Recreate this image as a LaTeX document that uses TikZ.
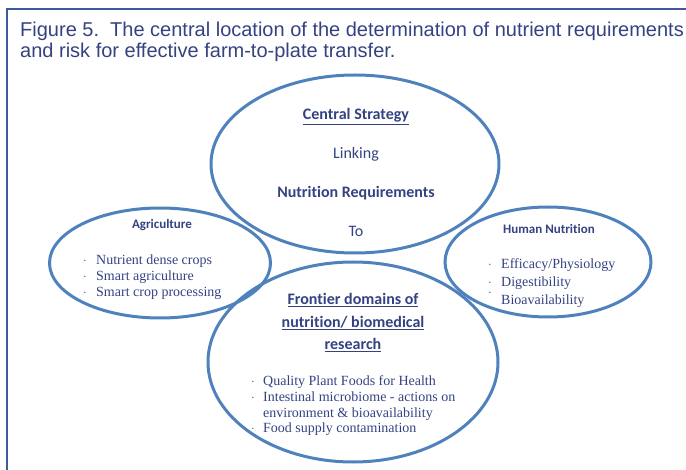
\documentclass[tikz,border=0pt]{standalone}
\usepackage{fontspec}
\setmainfont{Liberation Serif}
\setsansfont[Ligatures=NoCommon]{Carlito}
\newfontfamily\captionfont{Liberation Sans}
\usetikzlibrary{shapes.geometric, positioning}
\definecolor{ringblue}{RGB}{79, 129, 189}
\definecolor{inkblue}{RGB}{52, 66, 130}
\definecolor{frameblue}{RGB}{63, 88, 158}

\begin{document}
\begin{tikzpicture}[x=1pt, y=-1pt]

\tikzstyle{ring} = [draw=ringblue, line width=3pt, ellipse, inner sep=0pt]
\tikzstyle{caption} = [font=\captionfont\fontsize{20}{23}\selectfont, text=inkblue, inner sep=0pt, anchor=base west]
\tikzstyle{head} = [font=\sffamily\bfseries\fontsize{16}{20}\selectfont, text=inkblue, inner sep=0pt, anchor=base]
\tikzstyle{plain} = [font=\sffamily\fontsize{16}{20}\selectfont, text=inkblue, inner sep=0pt, anchor=base]
\tikzstyle{small head} = [font=\sffamily\bfseries\fontsize{13}{16}\selectfont, text=inkblue, inner sep=0pt, anchor=base]
\tikzstyle{item} = [font=\fontsize{14}{16}\selectfont, text=inkblue, inner sep=0pt, anchor=base west]
\tikzstyle{dot} = [font=\fontsize{11}{12}\selectfont, text=inkblue, inner sep=0pt, anchor=base]

\useasboundingbox (0,0) rectangle (686,470);

% frame, only top and left edges show
\draw[frameblue, line width=2pt] (7,470) -- (7,9.5) -- (686,9.5);

\node[caption] (cap1) at (20,37)
  {Figure 5.\ \ The central location of the determination of nutrient requirements};
\node[caption] (cap2) at (20,58)
  {and risk for effective farm-to-plate transfer.};

% the four ellipses
\node[ring, minimum width=288pt, minimum height=178pt] (centre) at (355,164) {};
\node[ring, minimum width=221pt, minimum height=110pt] (agri) at (160,263) {};
\node[ring, minimum width=206pt, minimum height=110pt] (human) at (548,262) {};
\node[ring, minimum width=290pt, minimum height=200pt] (frontier) at (353,362) {};

% central strategy
\node[head] (strategy) at (356,120) {\underline{Central Strategy}};
\node[plain] (linking) at (356,159) {Linking};
\node[head] (needs) at (356,198) {Nutrition Requirements};
\node[plain] (to) at (356,237) {To};

% agriculture
\node[small head] (agrihead) at (162,229) {Agriculture};
\foreach \txt [count=\i] in {Nutrient dense crops, Smart agriculture, Smart crop processing} {
  \node[item] (agri\i) at (96,{249+16*\i}) {\txt};
  \node[dot] (agridot\i) at (85,{249+16*\i}) {·};
}

% human nutrition
\node[small head] (humanhead) at (549,234) {Human Nutrition};
\foreach \txt [count=\i] in {Efficacy/Physiology, Digestibility, Bioavailability} {
  \node[item] (human\i) at (501,{251+18*\i}) {\txt};
}
\node[dot] (humandot1) at (490,269) {·};
\node[dot] (humandot2) at (490,287) {·};
\node[dot] (humandot3) at (490,297) {·};

% frontier research
\node[head] (front1) at (353,305) {\underline{Frontier domains of}};
\node[head] (front2) at (353,327.5) {\underline{nutrition/ biomedical}};
\node[head] (front3) at (353,350) {\underline{research}};
\node[item] (front4) at (263,386) {Quality Plant Foods for Health};
\node[item] (front5) at (263,402) {Intestinal microbiome - actions on};
\node[item] (front6) at (263,417.5) {environment \& bioavailability};
\node[item] (front7) at (263,433) {Food supply contamination};
\node[dot] (frontdot1) at (253,386) {·};
\node[dot] (frontdot2) at (253,402) {·};
\node[dot] (frontdot3) at (253,433) {·};

\end{tikzpicture}
\end{document}
